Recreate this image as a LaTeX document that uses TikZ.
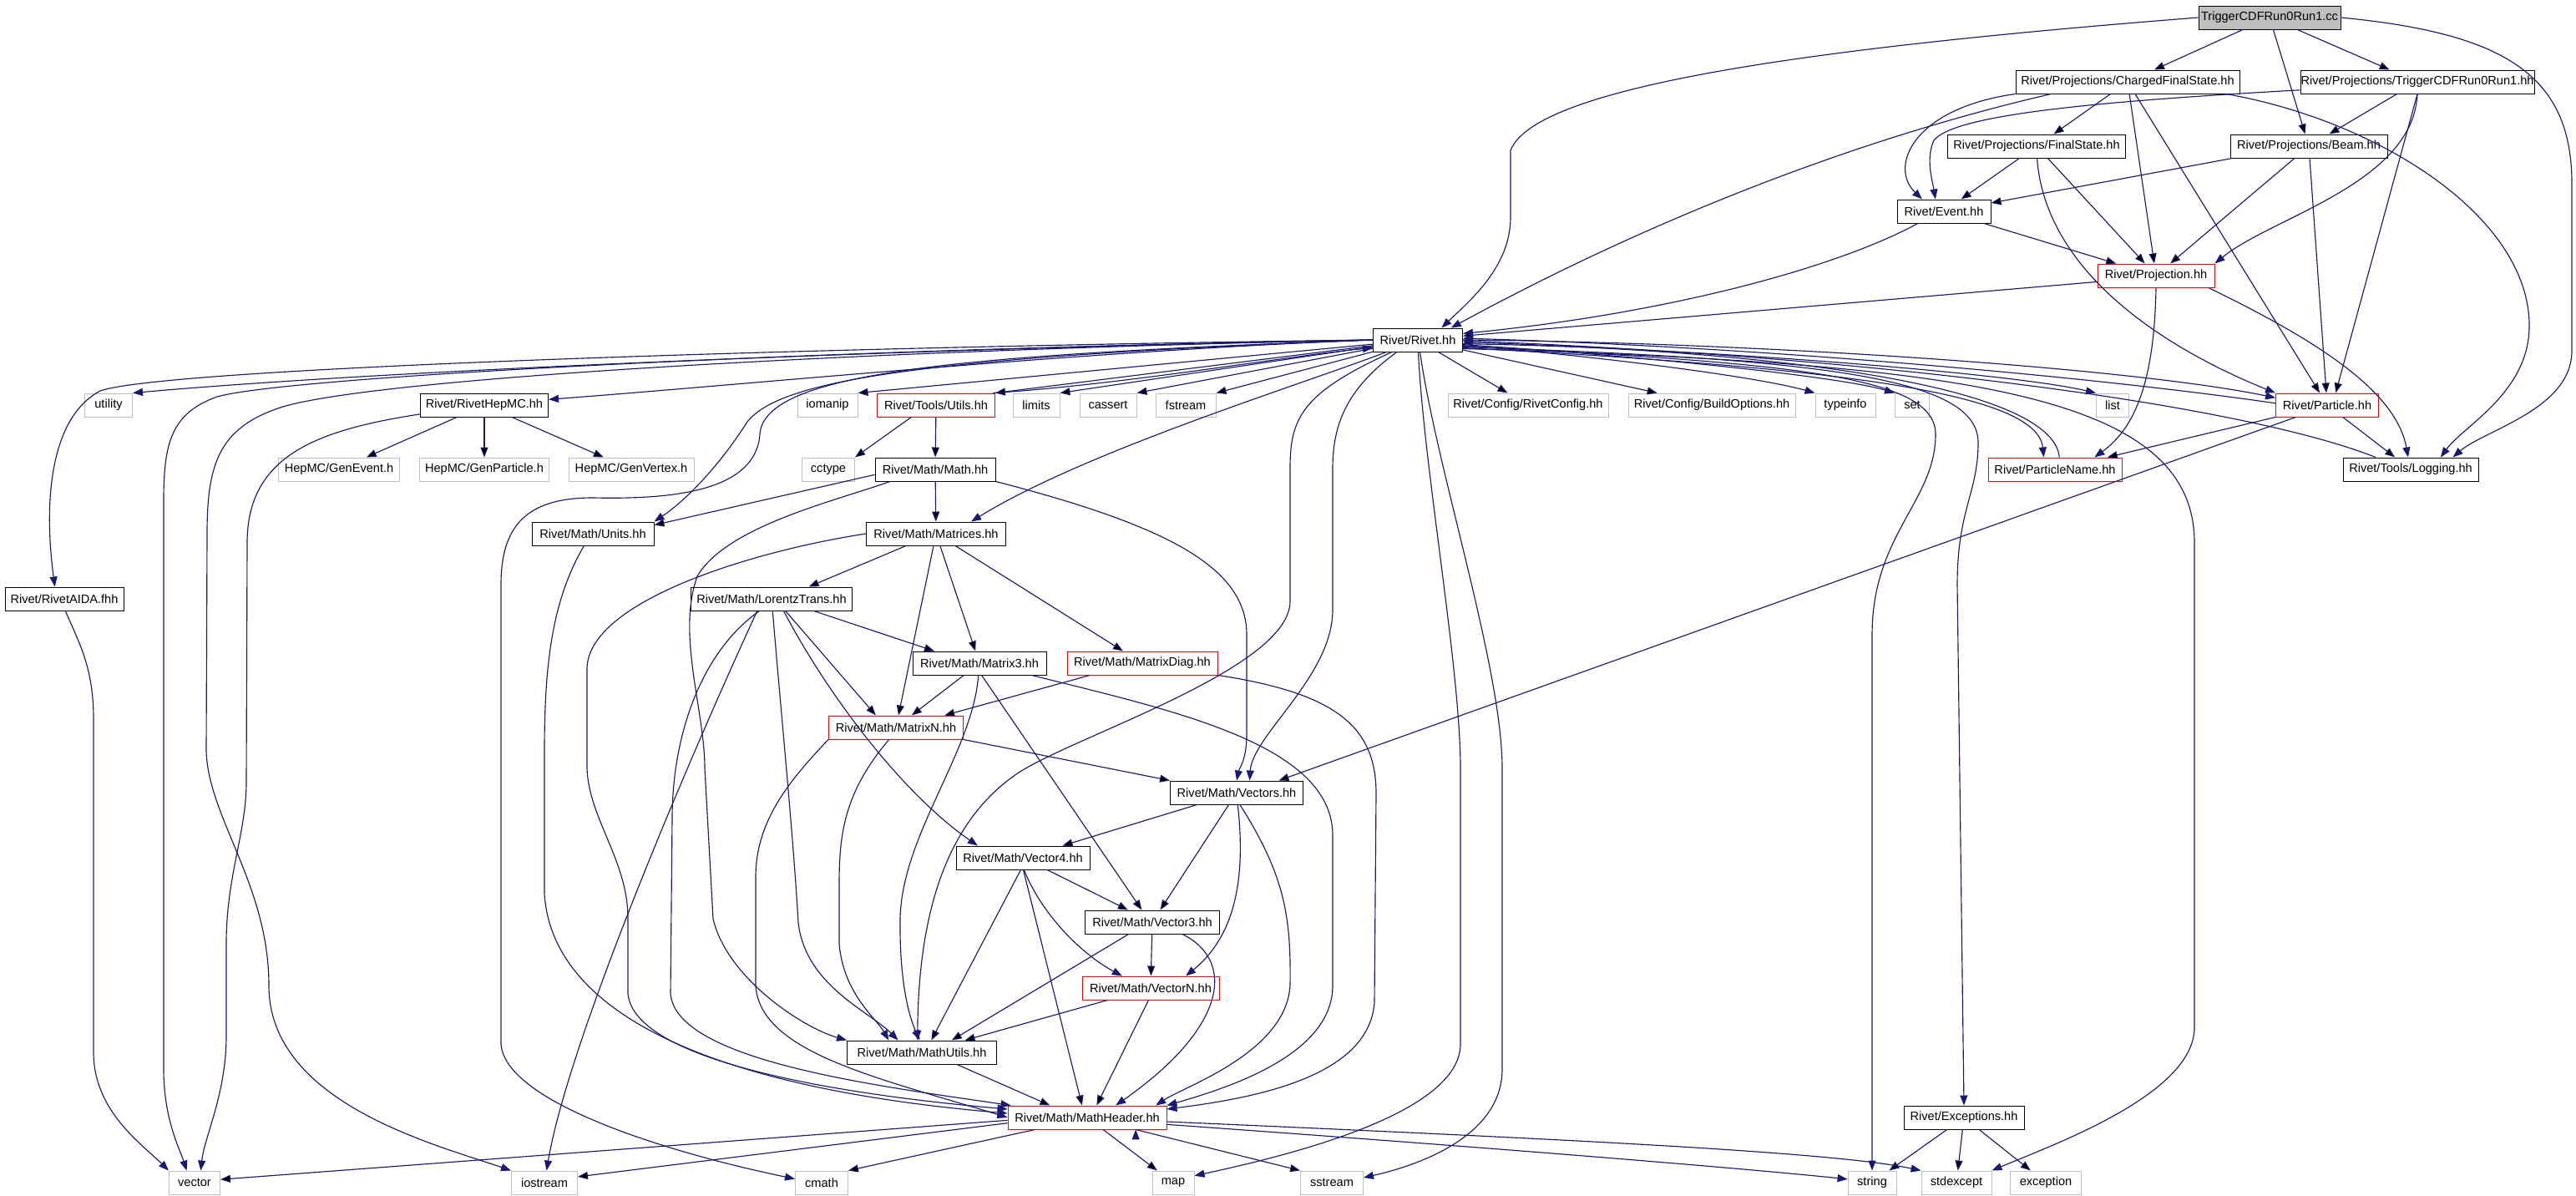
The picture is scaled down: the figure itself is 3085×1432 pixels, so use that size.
\documentclass[tikz,border=0pt]{standalone}
\usepackage{fontspec}
\setmainfont{Liberation Sans}
\usetikzlibrary{arrows.meta}
\definecolor{edgeblue}{HTML}{191970}
\definecolor{sysgrey}{HTML}{BFBFBF}

\begin{document}
\begin{tikzpicture}[x=0.02cm,y=-0.02cm,>={Triangle[length=0.24cm,width=0.18cm]},
  file node/.style={draw=black,line width=0.55pt,fill=white,minimum height=0.56cm,inner sep=0pt,font=\fontsize{8.3}{9}\selectfont},
  red node/.style={file node,draw=red},
  sys node/.style={file node,draw=sysgrey},
  root node/.style={file node,fill=sysgrey},
  link/.style={->,draw=edgeblue,line width=0.65pt}]

  \path[use as bounding box,fill=white] (0,0) rectangle (3085,1432);

  % top part
  \node[root node,minimum width=3.4cm] (cc) at (2718,21) {TriggerCDFRun0Run1.cc};
  \node[file node,minimum width=5.36cm] (cfs) at (2548,98) {Rivet/Projections/ChargedFinalState.hh};
  \node[file node,minimum width=5.6cm] (trig) at (2895,98) {Rivet/Projections/TriggerCDFRun0Run1.hh};
  \node[file node,minimum width=4.26cm] (fs) at (2439,175) {Rivet/Projections/FinalState.hh};
  \node[file node,minimum width=3.76cm] (beam) at (2765,175) {Rivet/Projections/Beam.hh};
  \node[file node,minimum width=2.24cm] (event) at (2328,253) {Rivet/Event.hh};
  \node[red node,minimum width=2.8cm] (proj) at (2582,330) {Rivet/Projection.hh};
  \node[file node,minimum width=2.14cm] (rivet) at (1698,407) {Rivet/Rivet.hh};

  % row below Rivet.hh
  \node[sys node,minimum width=1.14cm] (utility) at (130,485) {utility};
  \node[file node,minimum width=3.06cm] (hepmc) at (580,485) {Rivet/RivetHepMC.hh};
  \node[sys node,minimum width=1.44cm] (iomanip) at (991,485) {iomanip};
  \node[red node,minimum width=2.82cm] (utils) at (1121,485) {Rivet/Tools/Utils.hh};
  \node[sys node,minimum width=1.12cm] (limits) at (1241,485) {limits};
  \node[sys node,minimum width=1.36cm] (cassert) at (1327,485) {cassert};
  \node[sys node,minimum width=1.44cm] (fstream) at (1420,485) {fstream};
  \node[sys node,minimum width=3.84cm] (rconfig) at (1830,485) {Rivet/Config/RivetConfig.hh};
  \node[sys node,minimum width=4.0cm] (bopts) at (2050,485) {Rivet/Config/BuildOptions.hh};
  \node[sys node,minimum width=1.44cm] (typeinfo) at (2210,485) {typeinfo};
  \node[sys node,minimum width=0.82cm] (set) at (2290,485) {set};
  \node[sys node,minimum width=0.78cm] (list) at (2530,485) {list};
  \node[red node,minimum width=2.46cm] (particle) at (2787,485) {Rivet/Particle.hh};

  \node[sys node,minimum width=2.9cm] (genevent) at (406,562) {HepMC/GenEvent.h};
  \node[sys node,minimum width=3.1cm] (genparticle) at (580,562) {HepMC/GenParticle.h};
  \node[sys node,minimum width=3.0cm] (genvertex) at (756,562) {HepMC/GenVertex.h};
  \node[sys node,minimum width=1.26cm] (cctype) at (992,562) {cctype};
  \node[file node,minimum width=2.88cm] (math) at (1120,562) {Rivet/Math/Math.hh};
  \node[red node,minimum width=3.2cm] (pname) at (2461,562) {Rivet/ParticleName.hh};
  \node[file node,minimum width=3.24cm] (logging) at (2887,562) {Rivet/Tools/Logging.hh};

  % math headers
  \node[file node,minimum width=2.92cm] (units) at (710,639) {Rivet/Math/Units.hh};
  \node[file node,minimum width=3.34cm] (matrices) at (1121,639) {Rivet/Math/Matrices.hh};
  \node[file node,minimum width=2.84cm] (aida) at (77,717) {Rivet/RivetAIDA.fhh};
  \node[file node,minimum width=3.86cm] (lorentz) at (924,717) {Rivet/Math/LorentzTrans.hh};
  \node[file node,minimum width=3.2cm] (matrix3) at (1173,794) {Rivet/Math/Matrix3.hh};
  \node[red node,minimum width=3.6cm] (mdiag) at (1368,794) {Rivet/Math/MatrixDiag.hh};
  \node[red node,minimum width=3.22cm] (matrixn) at (1073,871) {Rivet/Math/MatrixN.hh};
  \node[file node,minimum width=3.18cm] (vectors) at (1481,949) {Rivet/Math/Vectors.hh};
  \node[file node,minimum width=3.2cm] (vector4) at (1225,1027) {Rivet/Math/Vector4.hh};
  \node[file node,minimum width=3.22cm] (vector3) at (1380,1104) {Rivet/Math/Vector3.hh};
  \node[red node,minimum width=3.28cm] (vectorn) at (1378,1183) {Rivet/Math/VectorN.hh};
  \node[file node,minimum width=3.58cm] (mathutils) at (1104,1260) {Rivet/Math/MathUtils.hh};
  \node[red node,minimum width=3.8cm] (mathheader) at (1302,1338) {Rivet/Math/MathHeader.hh};
  \node[file node,minimum width=2.88cm] (exceptions) at (2352,1338) {Rivet/Exceptions.hh};

  % bottom row
  \node[sys node,minimum width=1.22cm] (vector) at (233,1416) {vector};
  \node[sys node,minimum width=1.58cm] (iostream) at (652,1416) {iostream};
  \node[sys node,minimum width=1.26cm] (cmath) at (984,1416) {cmath};
  \node[sys node,minimum width=1.0cm] (map) at (1405,1416) {map};
  \node[sys node,minimum width=1.5cm] (sstream) at (1595,1416) {sstream};
  \node[sys node,minimum width=1.16cm] (string) at (2242,1416) {string};
  \node[sys node,minimum width=1.68cm] (stdexcept) at (2343,1416) {stdexcept};
  \node[sys node,minimum width=1.7cm] (exception) at (2450,1416) {exception};

  % straight includes
  \path[link]
    (cc) edge (cfs)
    (cc) edge (beam)
    (cc) edge (trig)
    (cfs) edge (fs)
    (cfs) edge (proj)
    (cfs) edge (particle)
    (trig) edge (beam)
    (trig.south) edge (particle.55)
    (fs) edge (event)
    (fs) edge (proj)
    (beam.189) edge (event.10)
    (beam) edge (proj)
    (beam) edge (particle)
    (event) edge (proj)
    (proj.186) edge (rivet.5)
    (particle) edge (logging)
    (particle.south west) edge (pname.13)
    (particle.201) edge (vectors.16)
    (rivet) edge (rconfig)
    (rivet) edge (bopts)
    (rivet) edge (fstream.north east)
    (rivet) edge (cassert.north east)
    (rivet) edge (limits.north east)
    (rivet) edge (utils.north east)
    (rivet) edge (iomanip.north east)
    (hepmc) edge (genevent)
    (hepmc) edge (genparticle)
    (hepmc) edge (genvertex)
    (utils.206) edge (cctype.north east)
    (utils) edge (math)
    (math) edge (matrices)
    (math.185) edge (units.8)
    (matrices) edge (matrixn)
    (matrices) edge (matrix3)
    (matrices) edge (mdiag)
    (matrices.202) edge (lorentz.18)
    (lorentz.-41) edge (matrixn.149)
    (lorentz.-16) edge (matrix3.165)
    (matrix3) edge (matrixn)
    (matrix3.-80) edge (vector3.131)
    (mdiag.193) edge (matrixn.14)
    (matrixn.south east) edge (vectors.north west)
    (vectors) edge (vector4)
    (vectors) edge (vector3)
    (vector4) edge (vector3)
    (vector4.-100) edge (mathutils.52)
    (vector4.-88) edge (mathheader.113)
    (vector3) edge (vectorn)
    (vector3.207) edge (mathutils.22)
    (vectorn) edge (mathutils)
    (vectorn.-100) edge (mathheader.52)
    (mathutils.-19) edge (mathheader.162)
    (mathheader.182) edge (vector.7)
    (mathheader.184) edge (iostream.10)
    (mathheader.193) edge (cmath.north east)
    (mathheader) edge (map)
    (mathheader.-14) edge (sstream.north west)
    (exceptions) edge (string)
    (exceptions) edge (stdexcept)
    (exceptions) edge (exception);

  % routed includes, top
  \draw[link] (cc.west) .. controls (2200,55) and (1840,100) .. (1809,180) -- (1809,260) .. controls (1809,320) and (1760,360) .. (rivet.27);
  \draw[link] (cc.east) .. controls (3000,40) and (3080,90) .. (3080,220) -- (3080,420) .. controls (3080,490) and (2975,515) .. (logging.16);
  \draw[link] (cfs.-7) .. controls (2850,145) and (3029,260) .. (3029,390) .. controls (3029,470) and (2950,510) .. (logging.22);
  \draw[link] (cfs.south west) .. controls (2290,130) and (2262,200) .. (event.151);
  \draw[link] (cfs.189) .. controls (2250,160) and (2000,250) .. (rivet.20);
  \draw[link] (trig.184) .. controls (2500,122) and (2340,138) .. (2316,168) .. controls (2306,190) and (2314,215) .. (event.125);
  \draw[link] (trig.south) .. controls (2890,220) and (2720,260) .. (proj.north east);
  \draw[link] (fs.-88) .. controls (2450,330) and (2600,420) .. (particle.north west);
  \draw[link] (event.205) .. controls (2200,320) and (2000,375) .. (rivet.8);
  \draw[link] (proj.south) .. controls (2580,450) and (2560,510) .. (pname.17);
  \draw[link] (proj.-13) .. controls (2780,410) and (2870,470) .. (logging.102);

  % Rivet.hh, right side
  \draw[link] (logging.161) .. controls (2700,490) and (2300,430) .. (rivet.-1);
  \draw[link] (particle.178) .. controls (2500,450) and (2100,415) .. (rivet.2);
  \draw[link] (rivet.0) .. controls (2100,410) and (2550,440) .. (particle.172);
  \draw[link] (pname.70) .. controls (2460,480) and (2250,425) .. (rivet.-3);
  \draw[link] (rivet.-10) .. controls (2200,440) and (2440,470) .. (pname.133);
  \draw[link] (rivet.-5) .. controls (2000,415) and (2400,445) .. (list.north west);
  \draw[link] (rivet.-6) .. controls (1950,425) and (2200,450) .. (set.north west);
  \draw[link] (rivet.-7) .. controls (1900,425) and (2100,450) .. (typeinfo.north west);
  \draw[link] (rivet.-8) .. controls (2150,435) and (2318,450) .. (2318,520) .. controls (2318,600) and (2242,640) .. (2242,760) -- (string.north);
  \draw[link] (rivet.-9) .. controls (2200,430) and (2369,455) .. (2369,530) .. controls (2369,590) and (2344,610) .. (2344,700) -- (exceptions.north);
  \draw[link] (rivet.-11) .. controls (2350,435) and (2628,470) .. (2628,650) -- (2628,1230) .. controls (2628,1310) and (2460,1370) .. (stdexcept.north east);

  % Rivet.hh, left side and below
  \draw[link] (utils.12) .. controls (1350,460) and (1550,425) .. (rivet.190);
  \draw[link] (rivet.west) .. controls (1200,415) and (500,440) .. (utility.north east);
  \draw[link] (rivet.west) .. controls (1300,420) and (900,460) .. (hepmc.5);
  \draw[link] (rivet.west) .. controls (1000,415) and (200,440) .. (120,468) .. controls (60,500) and (52,600) .. (aida.128);
  \draw[link] (rivet.west) .. controls (1000,418) and (350,450) .. (260,475) .. controls (205,495) and (196,530) .. (196,600) -- (196,1280) .. controls (196,1340) and (215,1375) .. (vector.123);
  \draw[link] (rivet.west) .. controls (1000,420) and (420,455) .. (330,490) .. controls (260,515) and (248,560) .. (248,640) -- (247,900) .. controls (250,980) and (322,1060) .. (322,1180) .. controls (322,1320) and (520,1370) .. (iostream.north west);
  \draw[link] (rivet.west) .. controls (1150,425) and (915,445) .. (910,520) .. controls (905,590) and (800,598) .. (710,596) .. controls (630,596) and (600,630) .. (600,700) -- (600,1250) .. controls (605,1320) and (800,1380) .. (cmath.172);
  \draw[link] (rivet.west) .. controls (1100,428) and (935,455) .. (895,505) .. controls (860,560) and (820,600) .. (units.north east);
  \draw[link] (rivet.201) .. controls (1560,460) and (1300,540) .. (matrices.19);
  \draw[link] (rivet.205) .. controls (1560,470) and (1545,500) .. (1545,560) -- (1545,720) .. controls (1545,800) and (1290,880) .. (1220,925) .. controls (1130,985) and (1100,1100) .. (mathutils.110);
  \draw[link] (rivet.210) .. controls (1620,460) and (1596,500) .. (1596,560) -- (1596,730) .. controls (1596,810) and (1500,880) .. (vectors.43);
  \draw[link] (rivet.-88) .. controls (1705,560) and (1749,800) .. (1749,920) -- (1749,1250) .. controls (1749,1330) and (1560,1380) .. (map.18);
  \draw[link] (rivet.-80) .. controls (1720,560) and (1799,800) .. (1799,920) -- (1799,1280) .. controls (1799,1360) and (1700,1395) .. (sstream.9);

  % vector includes on the left
  \draw[link] (hepmc.188) .. controls (380,515) and (296,545) .. (296,650) -- (295,940) .. controls (294,1000) and (271,1050) .. (271,1130) -- (271,1240) .. controls (271,1310) and (245,1360) .. (vector.63);
  \draw[link] (aida.-85) .. controls (95,770) and (112,800) .. (112,860) -- (112,1260) .. controls (112,1330) and (170,1370) .. (vector.north west);

  % math includes
  \draw[link] (math.195) .. controls (1000,600) and (870,630) .. (835,690) .. controls (810,760) and (844,850) .. (844,920) -- (854,1100) .. controls (870,1170) and (960,1230) .. (mathutils.north west);
  \draw[link] (math.south east) .. controls (1400,630) and (1493,680) .. (1493,760) -- (1493,880) .. controls (1493,910) and (1484,920) .. (vectors.north);
  \draw[link] (matrices.west) .. controls (900,660) and (705,720) .. (703,800) -- (703,920) .. controls (705,980) and (752,1030) .. (752,1100) -- (752,1190) .. controls (760,1270) and (1000,1310) .. (mathheader.174);
  \draw[link] (units.234) .. controls (660,720) and (652,800) .. (652,900) -- (652,1070) .. controls (660,1200) and (820,1300) .. (mathheader.177);
  \draw[link] (lorentz.220) .. controls (820,920) and (680,1250) .. (iostream.80);
  \draw[link] (lorentz.225) .. controls (840,780) and (805,880) .. (805,980) -- (803,1190) .. controls (810,1270) and (1050,1300) .. (mathheader.171);
  \draw[link] (lorentz.-85) .. controls (935,850) and (950,1000) .. (956,1105) .. controls (965,1180) and (1040,1210) .. (mathutils.153);
  \draw[link] (lorentz.-45) .. controls (990,830) and (1080,950) .. (vector4.165);
  \draw[link] (matrix3.-95) .. controls (1165,900) and (1080,1000) .. (1078,1100) .. controls (1077,1180) and (1090,1220) .. (mathutils.100);
  \draw[link] (matrix3.-13) .. controls (1400,850) and (1596,890) .. (1596,1000) -- (1596,1180) .. controls (1596,1260) and (1480,1300) .. (mathheader.north east);
  \draw[link] (mdiag.south east) .. controls (1600,830) and (1648,870) .. (1648,950) -- (1646,1200) .. controls (1640,1290) and (1500,1315) .. (mathheader.6);
  \draw[link] (matrixn.south west) .. controls (950,930) and (905,980) .. (905,1050) -- (905,1180) .. controls (910,1260) and (1050,1290) .. (mathheader.180);
  \draw[link] (matrixn.-120) .. controls (1010,950) and (1005,1000) .. (1005,1060) -- (1005,1130) .. controls (1010,1190) and (1050,1220) .. (mathutils.160);
  \draw[link] (vectors.-85) .. controls (1492,1050) and (1480,1120) .. (vectorn.19);
  \draw[link] (vectors.-75) .. controls (1540,1050) and (1546,1100) .. (1545,1180) .. controls (1540,1260) and (1420,1300) .. (mathheader.10);
  \draw[link] (vector4.-85) .. controls (1250,1100) and (1300,1145) .. (vectorn.157);
  \draw[link] (vector3.-22) .. controls (1480,1150) and (1470,1230) .. (mathheader.23);
  \draw[link] (mathheader.-3) .. controls (1900,1365) and (2200,1380) .. (stdexcept.north west);
  \draw[link] (mathheader.-5) .. controls (1800,1375) and (2100,1400) .. (string.172);
\end{tikzpicture}
\end{document}
